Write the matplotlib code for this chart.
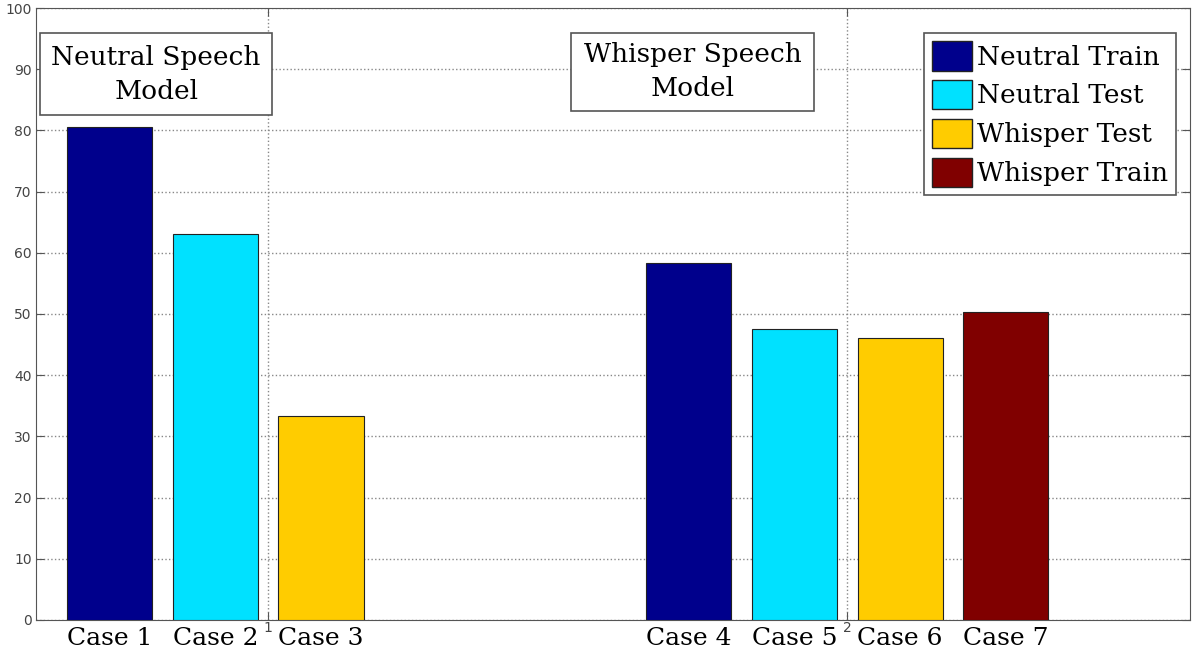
import numpy as np
import matplotlib.pyplot as plt
from matplotlib.patches import Patch, Rectangle

# Accuracy (%) per case, grouped by model; series order inside each group
series_names = ['Neutral Train', 'Neutral Test', 'Whisper Test', 'Whisper Train']
series_colors = ['#00008C', '#00E1FF', '#FFCC00', '#800000']
group_ticks = [1, 2]
neutral_model = [80.6, 63.1, 33.4, 0.0]
whisper_model = [58.4, 47.6, 46.0, 50.4]
case_labels = [['Case 1', 'Case 2', 'Case 3', None],
               ['Case 4', 'Case 5', 'Case 6', 'Case 7']]
model_titles = ['Neutral Speech\nModel', 'Whisper Speech\nModel']


def main():
    fig = plt.figure(figsize=(12, 6.56), dpi=100)
    ax = fig.add_axes([0.03, 0.0549, 0.9617, 0.9329])

    step = 0.1825
    width = 0.147
    groups = [neutral_model, whisper_model]
    for g, vals in enumerate(groups):
        for k, v in enumerate(vals):
            x = group_ticks[g] + (k - 1.5) * step
            if v > 0:
                ax.bar(x, v, width=width, color=series_colors[k],
                       edgecolor='#222222', linewidth=0.8, zorder=3)
            lab = case_labels[g][k]
            if lab is not None:
                ax.text(x, -1.1, lab, ha='center', va='top',
                        family='DejaVu Serif', fontsize=18)

    ax.set_xlim(0.599, 2.592)
    ax.set_ylim(0, 100)
    ax.set_yticks(np.arange(0, 101, 10))
    ax.set_xticks(group_ticks)
    ax.set_xticklabels(['1', '2'], fontsize=10, color='#444444')
    ax.tick_params(axis='y', labelsize=10, labelcolor='#444444')
    ax.tick_params(direction='in', top=True, right=True, length=6,
                   color='#555555', pad=3)
    ax.tick_params(axis='x', pad=1)
    ax.grid(True, linestyle=':', color='#888888', linewidth=1.0, zorder=0)
    ax.set_axisbelow(True)
    for s in ax.spines.values():
        s.set_color('#555555')

    # model title boxes
    boxes = [(0.606, 82.5, 0.401, 13.4), (1.523, 83.2, 0.420, 12.7)]
    for (x0, y0, w, h), title in zip(boxes, model_titles):
        ax.add_patch(Rectangle((x0, y0), w, h, facecolor='white',
                               edgecolor='#555555', linewidth=1.2, zorder=5))
        ax.text(x0 + w / 2, y0 + h / 2, title, ha='center', va='center',
                family='DejaVu Serif', fontsize=19, linespacing=1.45,
                zorder=6)

    handles = [Patch(facecolor=c, edgecolor='#222222', label=n)
               for c, n in zip(series_colors, series_names)]
    leg = ax.legend(handles=handles, loc='upper right',
                    bbox_to_anchor=(0.988, 0.959), fancybox=False,
                    framealpha=1, edgecolor='#555555',
                    prop={'family': 'DejaVu Serif', 'size': 19},
                    handlelength=1.5, handleheight=1.35, handletextpad=0.2,
                    labelspacing=0.35, borderpad=0.3, borderaxespad=0)
    leg.get_frame().set_linewidth(1.2)
    leg.set_zorder(6)

    fig.savefig('out.png', dpi=100)


if __name__ == "__main__":
    main()
